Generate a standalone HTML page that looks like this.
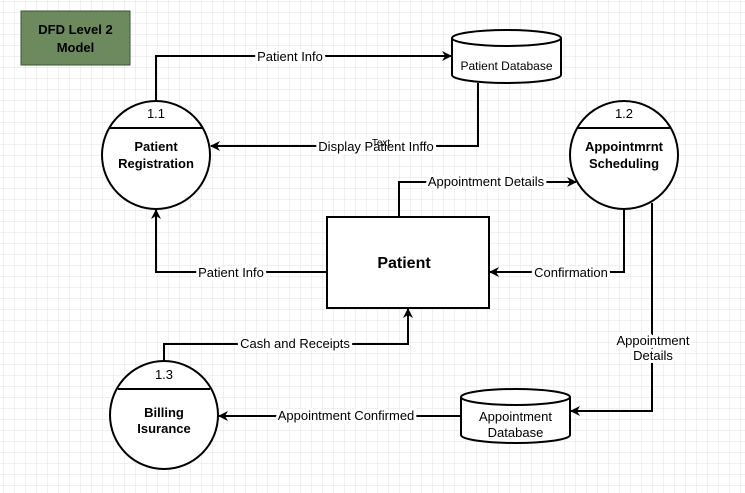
<!DOCTYPE html>
<html><head><meta charset="utf-8"><style>
html,body{margin:0;padding:0;background:#fff}
svg{display:block}
text{font-family:"Liberation Sans",Arial,sans-serif;fill:#000}
.l{stroke:#fff;stroke-width:6px;paint-order:stroke;stroke-linejoin:round}
</style></head><body>
<svg width="745" height="493" viewBox="0 0 745 493" xmlns="http://www.w3.org/2000/svg">
<defs>
<pattern id="g" width="11" height="11" patternUnits="userSpaceOnUse" x="4" y="2">
<path d="M11 0V11M0 11H11" fill="none" stroke="#e0e0e0" stroke-width="1"/>
</pattern>
<marker id="a" markerWidth="10" markerHeight="10" refX="9" refY="5" orient="auto" markerUnits="userSpaceOnUse">
<path d="M0,0 L10,5 L0,10 L3,5 Z" fill="#000"/>
</marker>
</defs>
<rect width="745" height="493" fill="url(#g)"/>
<rect x="21" y="11" width="109" height="54" fill="#6d8a5f" stroke="#3e5234" stroke-width="1"/>
<text x="75.5" y="34" font-size="13" font-weight="bold" text-anchor="middle">DFD Level 2</text>
<text x="75.5" y="52" font-size="13" font-weight="bold" text-anchor="middle">Model</text>

<g fill="none" stroke="#000" stroke-width="2">
<polyline points="156,100 156,56 451,56" marker-end="url(#a)"/>
<polyline points="478,83 478,146 211,146" marker-end="url(#a)"/>
<polyline points="399,217 399,182 576,182" marker-end="url(#a)"/>
<polyline points="624,209 624,272 490,272" marker-end="url(#a)"/>
<polyline points="327,272 156,272 156,210" marker-end="url(#a)"/>
<polyline points="652,203 652,411 571,411" marker-end="url(#a)"/>
<polyline points="164,361 164,344 408,344 408,309" marker-end="url(#a)"/>
<polyline points="461,416 219,416" marker-end="url(#a)"/>
</g>

<g fill="#fff" stroke="#000" stroke-width="2">
<circle cx="156" cy="155" r="54"/>
<circle cx="624" cy="155" r="54"/>
<circle cx="164" cy="415" r="54"/>
<rect x="327" y="217" width="162" height="91"/>
<path d="M452,38 V75 A54.5,8 0 0 0 561,75 V38"/>
<ellipse cx="506.5" cy="38" rx="54.5" ry="8"/>
<path d="M461,397 V435 A54.5,8 0 0 0 570,435 V397"/>
<ellipse cx="515.5" cy="397" rx="54.5" ry="8"/>
</g>
<g stroke="#000" stroke-width="2">
<line x1="110" y1="128" x2="202" y2="128"/>
<line x1="578" y1="128" x2="670" y2="128"/>
<line x1="118" y1="389" x2="210" y2="389"/>
</g>

<g font-size="13">
<text class="l" x="290" y="61" text-anchor="middle">Patient Info</text>
<text class="l" x="376" y="151" text-anchor="middle">Display Patient Inffo</text>
<text x="381" y="146" text-anchor="middle" font-size="10">Text</text>
<text class="l" x="486" y="186" text-anchor="middle">Appointment Details</text>
<text class="l" x="571" y="277" text-anchor="middle">Confirmation</text>
<text class="l" x="231" y="277" text-anchor="middle">Patient Info</text>
<text class="l" x="653" y="345" text-anchor="middle">Appointment</text>
<text class="l" x="653" y="360" text-anchor="middle">Details</text>
<text class="l" x="295" y="348" text-anchor="middle">Cash and Receipts</text>
<text class="l" x="346" y="420" text-anchor="middle">Appointment Confirmed</text>

<text x="156" y="118" text-anchor="middle">1.1</text>
<text x="624" y="118" text-anchor="middle">1.2</text>
<text x="164" y="379" text-anchor="middle">1.3</text>
<text x="506.5" y="70" text-anchor="middle" font-size="12">Patient Database</text>
<text x="515.5" y="421" text-anchor="middle">Appointment</text>
<text x="515.5" y="437" text-anchor="middle">Database</text>
</g>
<g font-size="13" font-weight="bold">
<text x="156" y="151" text-anchor="middle">Patient</text>
<text x="156" y="168" text-anchor="middle">Registration</text>
<text x="624" y="151" text-anchor="middle">Appointmrnt</text>
<text x="624" y="168" text-anchor="middle">Scheduling</text>
<text x="164" y="417" text-anchor="middle">Billing</text>
<text x="164" y="433" text-anchor="middle">Isurance</text>
<text x="404" y="268" text-anchor="middle" font-size="16">Patient</text>
</g>
</svg>
</body></html>
